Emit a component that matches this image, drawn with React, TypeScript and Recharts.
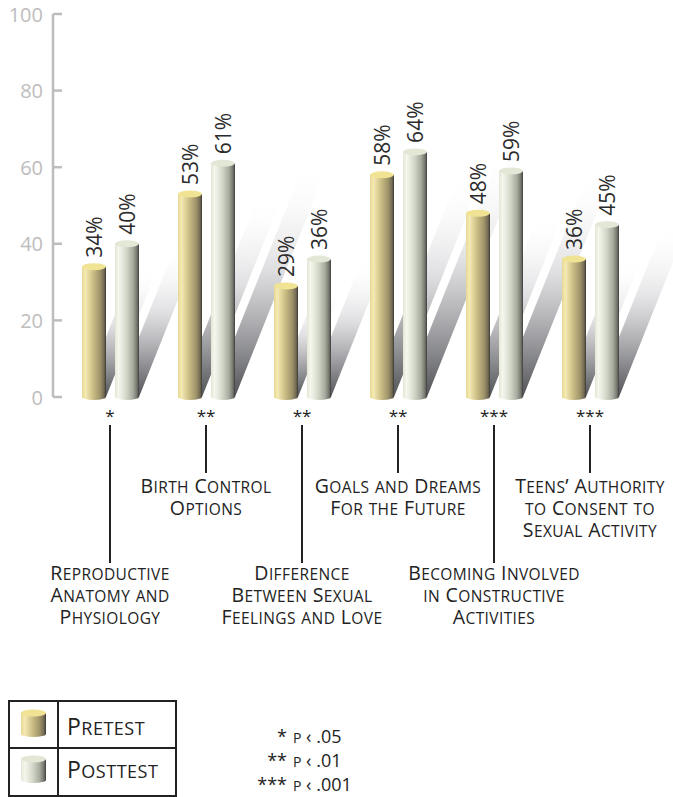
import { Bar, BarChart, LabelList, XAxis, YAxis } from "recharts";

const categories = [
  ["Reproductive", "Anatomy and", "Physiology"],
  ["Birth Control", "Options"],
  ["Difference", "Between Sexual", "Feelings and Love"],
  ["Goals and Dreams", "For the Future"],
  ["Becoming Involved", "in Constructive", "Activities"],
  ["Teens\u2019 Authority", "to Consent to", "Sexual Activity"],
];
const pretest = [34, 53, 29, 58, 48, 36];
const posttest = [40, 61, 36, 64, 59, 45];
const significance = ["*", "**", "**", "**", "***", "***"];
const yTicks = [0, 20, 40, 60, 80, 100];
const pNotes = [
  ["*", "p \u2039 .05"],
  ["**", "p \u2039 .01"],
  ["***", "p \u2039 .001"],
];

const data = categories.map((lines, i) => ({
  name: lines.join(" "),
  pre: pretest[i],
  post: posttest[i],
}));

const FONT = "'Open Sans', sans-serif";
const BAR_GAP = 9;
const SHADOW_SLOPE = 0.4;

// fake small caps: lowercase letters drawn as smaller capitals
function smallCaps(text: string, big: number, small: number) {
  const runs: { s: string; low: boolean }[] = [];
  for (const ch of text) {
    const low = ch !== ch.toUpperCase();
    const last = runs[runs.length - 1];
    if (last && last.low === low) last.s += ch;
    else runs.push({ s: ch, low });
  }
  return runs.map((r, i) => (
    <tspan key={i} fontSize={r.low ? small : big}>
      {r.low ? r.s.toUpperCase() : r.s}
    </tspan>
  ));
}

function Cylinder({ x, y, width, height, kind }: any) {
  const cx = x + width / 2;
  const top = kind === "pre" ? "#f1e394" : "#e3e7d6";
  return (
    <g>
      <rect x={x} y={y} width={width} height={height} fill={`url(#cyl-${kind})`} />
      <ellipse cx={cx} cy={y + height} rx={width / 2} ry={3} fill={`url(#cyl-${kind})`} />
      <ellipse cx={cx} cy={y} rx={width / 2} ry={3.5} fill={top} />
    </g>
  );
}

function Shadow({ x, width, base, h }: any) {
  const dx = h * SHADOW_SLOPE;
  const pts = [
    [x, base],
    [x + width, base],
    [x + width + dx, base - h],
    [x + dx, base - h],
  ]
    .map((p) => p.join(","))
    .join(" ");
  return <polygon points={pts} fill="url(#shadow)" />;
}

function PreShape(props: any) {
  const { x, y, width, height, payload } = props;
  const base = y + height;
  const postH = (height * payload.post) / payload.pre;
  const postX = x + width + BAR_GAP;
  return (
    <g>
      <Shadow x={x} width={width} base={base} h={height} />
      <Shadow x={postX} width={width} base={base} h={postH} />
      <Cylinder x={x} y={y} width={width} height={height} kind="pre" />
    </g>
  );
}

function PostShape(props: any) {
  return <Cylinder {...props} kind="post" />;
}

function ValueLabel(props: any) {
  const { x, y, width, value } = props;
  return (
    <text
      transform={`translate(${x + width / 2},${y - 9}) rotate(-90)`}
      dominantBaseline="central"
      fontFamily={FONT}
      fontSize={21}
      fill="#2b2b2b"
    >
      {value}%
    </text>
  );
}

function YTick({ x, y, payload }: any) {
  return (
    <g>
      <line x1={x + 10} x2={x + 19} y1={y} y2={y} stroke="#bdbdbd" strokeWidth={2.5} />
      <text x={x} y={y} textAnchor="end" dominantBaseline="central" fontFamily={FONT} fontSize={20} fill="#bdbdbd">
        {payload.value}
      </text>
    </g>
  );
}

function XTick({ x, y, payload }: any) {
  const i = payload.index;
  const lines = categories[i];
  const upper = i % 2 === 1;
  const lineEnd = upper ? 76 : 166;
  const textTop = upper ? 96 : 183;
  return (
    <g>
      <text x={x} y={y + 25} textAnchor="middle" fontFamily={FONT} fontSize={17} fill="#222">
        {significance[i]}
      </text>
      <line x1={x} x2={x} y1={y + 28} y2={y + lineEnd} stroke="#222" strokeWidth={2} />
      {lines.map((line, k) => (
        <text
          key={k}
          x={x}
          y={y + textTop + k * 22}
          textAnchor="middle"
          fontFamily={FONT}
          fontWeight={500}
          letterSpacing={0.4}
          fill="#222"
        >
          {smallCaps(line, 19.5, 15.5)}
        </text>
      ))}
    </g>
  );
}

function LegendCylinder({ x, y, kind }: any) {
  return (
    <g>
      <rect x={x} y={y + 3} width={25} height={21} fill={`url(#lg-${kind})`} />
      <ellipse cx={x + 12.5} cy={y + 24} rx={12.5} ry={3} fill={`url(#lg-${kind})`} />
      <ellipse cx={x + 12.5} cy={y + 3} rx={12.5} ry={3.5} fill={kind === "pre" ? "#f1e394" : "#e3e7d6"} />
    </g>
  );
}

function gradientStops(kind: string) {
  const c =
    kind === "pre"
      ? ["#e6d894", "#f5eab2", "#cdbf86", "#a0946a", "#716a52", "#3a3934"]
      : ["#e2e6d6", "#f5f7ed", "#d6dacb", "#a7aa9e", "#72746c", "#3b3c39"];
  const offs = [0, 0.15, 0.45, 0.75, 0.92, 1];
  return c.map((col, i) => <stop key={i} offset={offs[i]} stopColor={col} />);
}

export default function App() {
  return (
    <div style={{ position: "absolute", left: 0, top: 0, width: 673, height: 797, background: "#fff" }}>
      <BarChart
        width={673}
        height={640}
        data={data}
        margin={{ top: 14, right: 35, bottom: 0, left: 0 }}
        barSize={24}
        barGap={BAR_GAP}
      >
        <defs>
          <linearGradient id="cyl-pre" x1="0" y1="0" x2="1" y2="0">
            {gradientStops("pre")}
          </linearGradient>
          <linearGradient id="cyl-post" x1="0" y1="0" x2="1" y2="0">
            {gradientStops("post")}
          </linearGradient>
          <linearGradient id="shadow" x1="0" y1="0" x2="0" y2="1">
            <stop offset={0} stopColor="#ffffff" stopOpacity={0} />
            <stop offset={0.45} stopColor="#d2d2d6" stopOpacity={0.7} />
            <stop offset={1} stopColor="#505155" stopOpacity={1} />
          </linearGradient>
        </defs>
        <XAxis
          dataKey="name"
          axisLine={false}
          tickLine={false}
          tickSize={0}
          tickMargin={0}
          height={243}
          padding={{ left: 9, right: 0 }}
          interval={0}
          tick={<XTick />}
        />
        <YAxis
          domain={[0, 100]}
          ticks={yTicks}
          width={53}
          axisLine={{ stroke: "#bdbdbd", strokeWidth: 2.5 }}
          tickLine={false}
          tickSize={0}
          tickMargin={10}
          tick={<YTick />}
        />
        <Bar dataKey="pre" shape={<PreShape />} isAnimationActive={false}>
          <LabelList dataKey="pre" content={<ValueLabel />} />
        </Bar>
        <Bar dataKey="post" shape={<PostShape />} isAnimationActive={false}>
          <LabelList dataKey="post" content={<ValueLabel />} />
        </Bar>
      </BarChart>
      <svg width={673} height={157} style={{ position: "absolute", left: 0, top: 640 }}>
        <defs>
          <linearGradient id="lg-pre" x1="0" y1="0" x2="1" y2="0">
            {gradientStops("pre")}
          </linearGradient>
          <linearGradient id="lg-post" x1="0" y1="0" x2="1" y2="0">
            {gradientStops("post")}
          </linearGradient>
        </defs>
        <rect x={9} y={61} width={167} height={95} fill="none" stroke="#222" strokeWidth={2} />
        <line x1={58} x2={58} y1={61} y2={156} stroke="#222" strokeWidth={2} />
        <line x1={9} x2={176} y1={108} y2={108} stroke="#222" strokeWidth={2} />
        <LegendCylinder x={21} y={70} kind="pre" />
        <LegendCylinder x={21} y={116} kind="post" />
        {["Pretest", "Posttest"].map((t, i) => (
          <text key={t} x={67} y={95 + i * 43} fontFamily={FONT} fontWeight={500} letterSpacing={0.5} fill="#222">
            {smallCaps(t, 23, 18)}
          </text>
        ))}
        {pNotes.map(([star, txt], i) => (
          <g key={i}>
            <text x={287} y={103 + i * 24} textAnchor="end" fontFamily={FONT} fontSize={18} fill="#222">
              {star}
            </text>
            <text x={293} y={103 + i * 24} fontFamily={FONT} fill="#222">
              {smallCaps(txt, 18, 14)}
            </text>
          </g>
        ))}
      </svg>
    </div>
  );
}
